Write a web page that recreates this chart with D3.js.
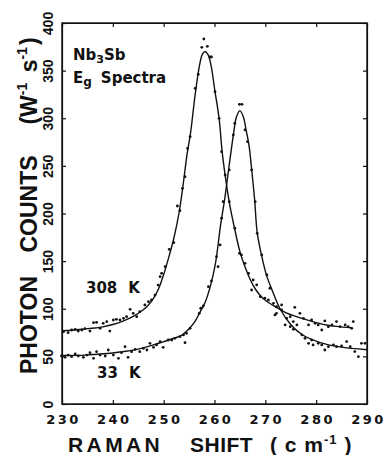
<!DOCTYPE html>
<html>
<head>
<meta charset="utf-8">
<script src="https://cdn.jsdelivr.net/npm/d3@7"></script>
<style>
  body { margin: 0; background: #fff; }
  svg { display: block; }
  .axis path, .axis line { stroke: #111; stroke-width: 1.2; }
  .tick text { fill: #111; }
</style>
</head>
<body>
<div id="chart"></div>
<script>
// Raman shift (cm-1) vs photon counts
const xTicks = [230, 240, 250, 260, 270, 280, 290];
const yTicks = [0, 50, 100, 150, 200, 250, 300, 350, 400];

// fitted curves
const curve308 = [[230,77],[232,77.5],[234,78.5],[236,79.5],[238,81],[240,83.5],[242,87],[244,92],[246,99],[247,104],[248,111],[249,121],[250,136],[251,154],[252,174],[253,200],[253.7,225],[254.6,262],[255.3,285],[256.2,325],[257,354],[257.6,367],[258.1,370],[258.7,367],[259.3,356],[260.1,328],[260.9,300],[261.5,265],[262.1,240],[262.9,212],[264,183],[265,160],[266,144],[267,131],[268,121],[269,114],[270,109],[272,102],[274,96],[276,92],[278,88.5],[280,85.5],[282,83],[284,81.5],[287,80]];
const curve33 = [[230,51],[233,51],[236,52],[239,53],[242,55],[244,56.5],[246,59],[248,62],[250,65.5],[252,69],[253.5,72],[255,79],[256.2,87],[257.2,97],[258.1,106],[259.2,124],[260.2,148],[261.2,188],[262,215],[262.8,247],[263.7,282],[264.3,301],[265,308],[265.7,301],[266.2,288],[266.8,271],[267.3,247],[267.9,214],[268.4,180],[269.3,155],[270.3,134],[271.3,120],[272.9,100],[274.9,84],[277.2,73],[280.8,64.5],[284.7,60],[290,57]];

// measured points
const dots308 = [[230.3,75.9],[231.2,74.9],[231.9,77.7],[232.6,78.4],[233.2,76.6],[233.9,77.7],[234.5,79.1],[235.5,76.6],[236.2,85.4],[236.8,85.7],[237.5,79.4],[238.1,84.7],[238.8,86.4],[239.4,76.6],[240.1,88.2],[240.7,88.9],[241.4,88.2],[242.1,89.9],[242.7,91.7],[243.4,99.4],[244.0,95.2],[244.7,91.7],[245.3,96.9],[246.3,104],[247.0,107.4],[247.6,109.2],[248.3,114.4],[248.9,124.9],[249.3,133.7],[249.6,137.2],
  [250.3,144.2],[251.1,162.4],[252.0,169.4],[252.7,207.9],[253.2,203],[253.7,226.4],[254.2,238.7],[254.7,268.4],[255.2,280.7],[256.2,331.4],[256.8,346.1],[257.5,374.5],[257.9,383.2],[258.6,375.5],[259.1,364.3],[259.4,364.3],[260.1,327.9],[260.9,299.9],[261.4,264.9],[262.1,240.4],[262.9,212.4],[264.0,184.5],[264.9,158.2],
  [265.3,156.5],[266.0,147.7],[266.7,137.2],[267.6,130.2],[267.3,119.7],[268.3,125],[269.0,112.7],[269.9,111],[270.6,109.2],[271.9,93.5],[272.2,102.2],[273.2,104],[274.2,90],[274.9,91.7],[275.8,101.5],[275.5,86.5],[276.8,95.2],[277.5,90],[278.5,83],[279.1,88.2],[279.8,84.7],[280.4,83],[281.1,77.7],[281.7,87.2],[282.4,81.2],[283.1,83],[284.0,86.5],[284.7,81.2],[285.7,83],[286.3,81.2],[287.0,79.4],[287.3,86.5]];
const dots33 = [[229.9,50.4],[230.6,49],[231.2,51.4],[231.9,49.7],[232.6,52.5],[233.2,50.4],[234.2,49],[234.9,51.4],[235.5,53.9],[236.2,48],[236.8,54.9],[237.5,51.4],[238.5,50.4],[239.1,56.7],[240.1,51.4],[241.1,48],[241.7,53.9],[242.4,60.2],[243.0,49],[243.7,54.9],[244.4,57.4],[245.3,54.9],[246.0,58.4],[246.7,56.7],[247.3,63.7],[248.0,59.5],[248.6,62],[249.3,65.4],[249.9,59.5],[250.9,67.2],
  [251.6,67.2],[252.2,69],[253.2,70.7],[253.9,72.5],[254.2,64.4],[254.5,74.2],[255.2,79.5],[257.0,95.2],[257.3,100.5],[257.8,102.9],[258.8,123.2],[259.4,129.2],[260.4,154.7],[260.7,144.2],[261.1,167],[261.4,195],
  [261.7,212.4],[262.9,245.7],[263.7,282.4],[264.0,294.7],[264.9,314.6],[265.4,314.6],[266.0,287.7],[266.5,275.4],[267.3,245.7],[268.0,212.4],
  [268.4,179.2],[269.3,156.5],[270.3,135.5],[270.9,121.5],[271.6,105.7],[272.2,95.2],[273.2,98.7],[273.9,83],[274.9,81.2],[275.5,78.4],[276.2,83],[277.2,72.5],[277.8,69],[278.5,63.7],[279.1,67.2],[279.4,62],[280.4,63.7],[281.1,62],[281.7,56.7],[282.4,60.2],[283.4,62],[284.0,60.2],[285.0,60.9],[286.0,65.5],[286.7,60.2],[287.6,55],[288.3,49.7],[288.9,63.7],[289.6,63.7]];

const width = 386, height = 455;
const margin = {top: 23, right: 19, bottom: 51, left: 62};
const w = width - margin.left - margin.right;
const h = height - margin.top - margin.bottom;

const svg = d3.select("#chart").append("svg")
    .attr("width", width).attr("height", height);
const g = svg.append("g").attr("transform", `translate(${margin.left},${margin.top})`);

const x = d3.scaleLinear().domain([230, 290]).range([0, w]);
const y = d3.scaleLinear().domain([0, 400]).range([h, 0]);

// axes, ticks pointing inward
const xAxis = g.append("g").attr("class", "axis").attr("transform", `translate(0,${h})`)
    .call(d3.axisBottom(x).tickValues(xTicks).tickSize(-4).tickSizeOuter(0).tickPadding(11));
xAxis.selectAll("text")
    .style("font-family", "DejaVu Sans").style("font-weight", "bold")
    .style("font-size", "13px").style("letter-spacing", "2.5px")
    .attr("dx", "1px");

const yAxis = g.append("g").attr("class", "axis")
    .call(d3.axisLeft(y).tickValues(yTicks).tickSize(-4).tickSizeOuter(0));
yAxis.selectAll("text")
    .attr("x", null).attr("dy", null).attr("y", null)
    .attr("transform", "translate(-9,0) rotate(-90)")
    .attr("text-anchor", "middle")
    .style("font-family", "Liberation Sans").style("font-weight", "bold")
    .style("font-size", "14px");

g.append("g").attr("class", "axis")
    .call(d3.axisTop(x).tickValues(xTicks).tickSize(-4).tickSizeOuter(0).tickFormat(""));
g.append("g").attr("class", "axis").attr("transform", `translate(${w},0)`)
    .call(d3.axisRight(y).tickValues(yTicks).tickSize(-4).tickSizeOuter(0).tickFormat(""));

g.append("rect").attr("width", w).attr("height", h)
    .attr("fill", "none").attr("stroke", "#111").attr("stroke-width", 1.4);

// curves
const line = d3.line().x(d => x(d[0])).y(d => y(d[1])).curve(d3.curveCatmullRom.alpha(0.5));
[curve308, curve33].forEach(c => {
  g.append("path").datum(c).attr("d", line)
    .attr("fill", "none").attr("stroke", "#111").attr("stroke-width", 1.4);
});

// data points
[dots308, dots33].forEach(ds => {
  g.append("g").selectAll("circle").data(ds).join("circle")
    .attr("cx", d => x(d[0])).attr("cy", d => y(d[1])).attr("r", 1.4).attr("fill", "#111");
});

// labels inside plot
const lab = (px, py, size) => svg.append("text").attr("x", px).attr("y", py)
    .style("font-family", "DejaVu Sans").style("font-weight", "bold")
    .style("font-size", size + "px").attr("fill", "#111");

const t1 = lab(73, 60, 15);
t1.append("tspan").text("Nb");
t1.append("tspan").text("3").style("font-size", "11px").attr("dy", 3);
t1.append("tspan").text("Sb").attr("dy", -3);
const t2 = lab(73, 83, 15);
t2.append("tspan").text("E");
t2.append("tspan").text("g").style("font-size", "12px").attr("dy", 3);
t2.append("tspan").text("Spectra").attr("dy", -3).attr("dx", 9);

lab(86, 293, 15).text("308").append("tspan").attr("dx", 11).text("K");
lab(97, 378, 15).text("33").append("tspan").attr("dx", 11).text("K");

// axis titles
const big = (px, py, size) => svg.append("text").attr("x", px).attr("y", py)
    .style("font-family", "Liberation Sans").style("font-weight", "bold")
    .style("font-size", size + "px").attr("fill", "#111");

big(68, 452, 21).style("letter-spacing", "3.4px").text("RAMAN");
big(190, 452, 21).style("letter-spacing", "0.5px").text("SHIFT");
const xt = big(270, 452, 21).style("letter-spacing", "1px");
xt.append("tspan").text("( c m");
xt.append("tspan").text("-1").style("font-size", "13px").attr("dy", -8);
xt.append("tspan").text(" )").attr("dy", 8);

const ylab = (cy, fn) => {
  const t = svg.append("text").attr("transform", `translate(37,${cy}) rotate(-90)`)
    .attr("text-anchor", "middle")
    .style("font-family", "Liberation Sans").style("font-weight", "bold")
    .style("font-size", "23px").attr("fill", "#111");
  fn(t);
};
ylab(325, t => t.text("PHOTON"));
ylab(204, t => t.text("COUNTS"));
ylab(81, t => {
  t.append("tspan").text("(W");
  t.append("tspan").text("-1").style("font-size", "14px").attr("dy", -10);
  t.append("tspan").text(" s").attr("dy", 10).attr("dx", 4);
  t.append("tspan").text("-1").style("font-size", "14px").attr("dy", -10);
  t.append("tspan").text(")").attr("dy", 10).attr("dx", 2);
});
</script>
</body>
</html>
